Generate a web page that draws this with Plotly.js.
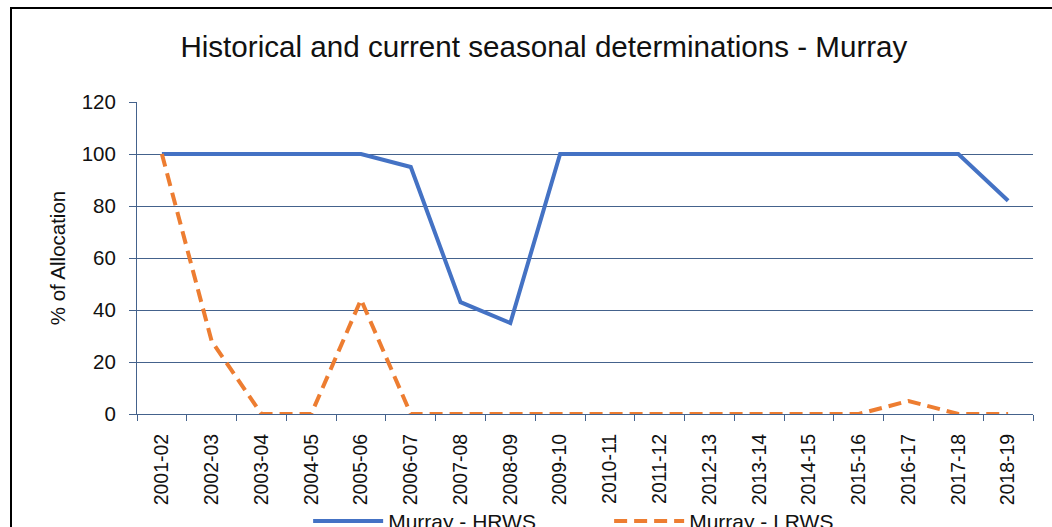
<!DOCTYPE html>
<html>
<head>
<meta charset="utf-8">
<script src="https://cdn.plot.ly/plotly-3.0.1.min.js"></script>
<style>
  html, body { margin: 0; padding: 0; background: #fff; overflow: hidden; }
  #wrap { position: relative; width: 1052px; height: 527px; }
  #chart { position: absolute; left: 0; top: 0; width: 1052px; height: 527px; }
  #frame { position: absolute; left: 10px; top: 7px; width: 1100px; height: 600px;
           border-left: 2px solid #000; border-top: 2px solid #000; pointer-events: none; }
</style>
</head>
<body>
<div id="wrap">
  <div id="chart"></div>
  <div id="frame"></div>
</div>
<script>
const seasons = ["2001-02","2002-03","2003-04","2004-05","2005-06","2006-07","2007-08","2008-09","2009-10",
                 "2010-11","2011-12","2012-13","2013-14","2014-15","2015-16","2016-17","2017-18","2018-19"];
const hrws = [100,100,100,100,100,95,43,35,100,100,100,100,100,100,100,100,100,82];
const lrws = [100,28,0,0,44,0,0,0,0,0,0,0,0,0,0,5,0,0];
const yTicks = [0,20,40,60,80,100,120];

const FONT = "Liberation Sans, Arial, sans-serif";
const gridCol = "#44628c";

const traces = [
  { x: seasons, y: hrws, type: "scatter", mode: "lines", name: "Murray - HRWS",
    line: { color: "#4472C4", width: 4 } },
  { x: seasons, y: lrws, type: "scatter", mode: "lines", name: "Murray - LRWS",
    line: { color: "#ED7D31", width: 4, dash: "13px,7px" } }
];

const layout = {
  width: 1052, height: 527,
  margin: { l: 137, r: 19, t: 102, b: 113, autoexpand: false },
  paper_bgcolor: "#fff", plot_bgcolor: "#fff",
  font: { family: FONT, color: "#222" },
  title: { text: "Historical and current seasonal determinations - Murray",
           font: { family: FONT, size: 29.6, color: "#111" },
           x: 0.517, xanchor: "center", xref: "container",
           y: 0.911, yanchor: "middle", yref: "container" },
  xaxis: { type: "category", range: [-0.5, 17.5], tickangle: -90,
           tickfont: { family: FONT, size: 19.5, color: "#111" },
           showline: true, linecolor: gridCol, linewidth: 1,
           ticks: "outside", tickson: "boundaries", ticklen: 6, tickcolor: gridCol,
           ticklabelstandoff: 11,
           showgrid: false, zeroline: false, fixedrange: true },
  yaxis: { range: [0, 120], tickvals: yTicks, ticktext: yTicks.map(String),
           tickfont: { family: FONT, size: 20.5, color: "#111" },
           showline: true, linecolor: gridCol, linewidth: 1,
           ticks: "outside", ticklen: 7, tickcolor: gridCol,
           ticklabelstandoff: 9,
           showgrid: true, gridcolor: gridCol, gridwidth: 1, zeroline: false,
           title: { text: "% of Allocation", font: { family: FONT, size: 20.5, color: "#111" }, standoff: 10 },
           fixedrange: true },
  showlegend: true,
  legend: { orientation: "h", x: 0.191, xanchor: "left", y: -0.344, yanchor: "middle",
            font: { family: FONT, size: 21, color: "#111" }, itemwidth: 70,
            entrywidth: 216, entrywidthmode: "pixels",
            traceorder: "normal", bgcolor: "rgba(0,0,0,0)" }
};

Plotly.newPlot("chart", traces, layout, { displayModeBar: false, staticPlot: true });
</script>
</body>
</html>
